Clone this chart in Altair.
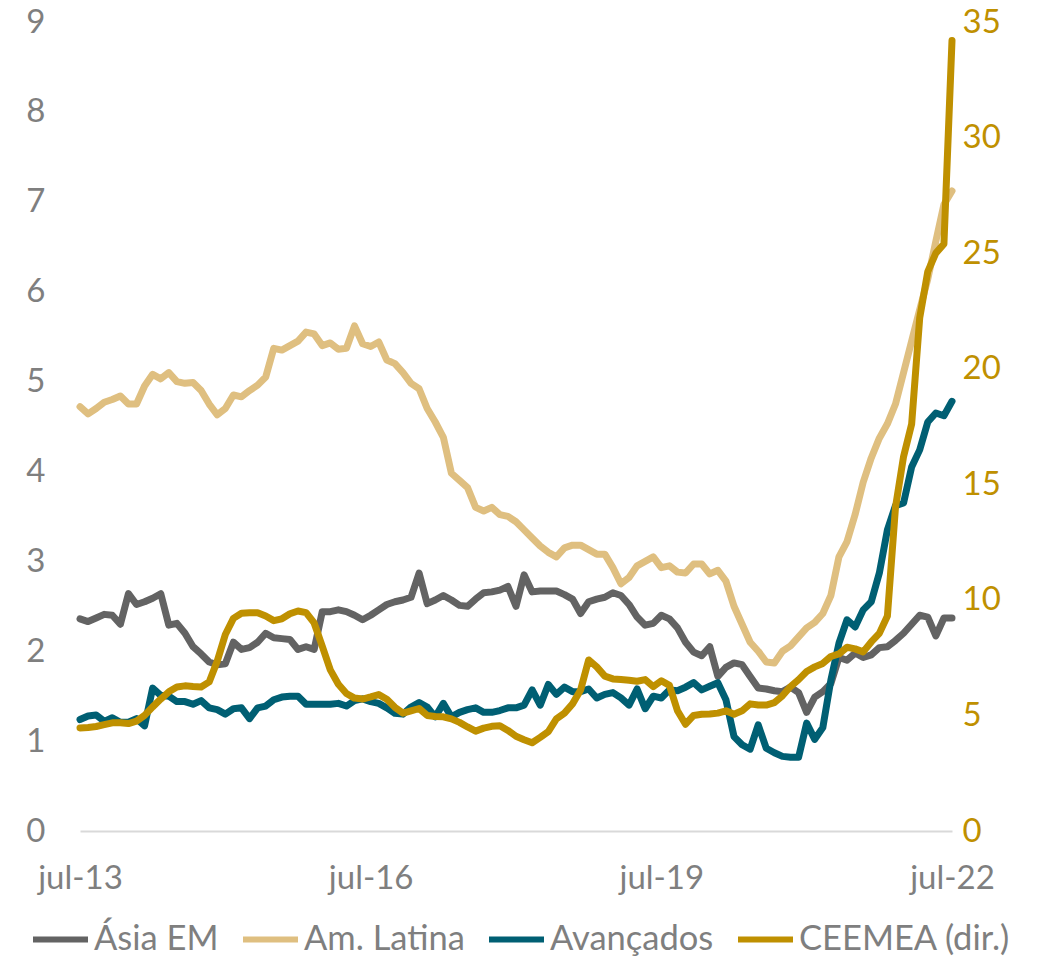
import altair as alt
import pandas as pd

# ---- data (monthly, jul-13 .. jul-22) ----
tick_labels = ["jul-13", "jul-16", "jul-19", "jul-22"]
series_names = ["Ásia EM", "Am. Latina", "Avançados", "CEEMEA (dir.)"]
series_colors = ["#636363", "#dfbf80", "#005f73", "#bf9000"]

asia = [2.36, 2.33, 2.37, 2.41, 2.40, 2.30, 2.64, 2.52, 2.55, 2.59,
        2.64, 2.29, 2.31, 2.20, 2.05, 1.97, 1.88, 1.85, 1.86, 2.10,
        2.02, 2.04, 2.10, 2.20, 2.15, 2.14, 2.13, 2.02, 2.05, 2.02,
        2.44, 2.44, 2.46, 2.44, 2.40, 2.35, 2.40, 2.46, 2.52, 2.55,
        2.57, 2.60, 2.87, 2.53, 2.57, 2.62, 2.57, 2.51, 2.50, 2.58,
        2.65, 2.66, 2.68, 2.72, 2.50, 2.85, 2.66, 2.67, 2.67, 2.67,
        2.63, 2.58, 2.42, 2.55, 2.58, 2.60, 2.65, 2.62, 2.52, 2.38,
        2.29, 2.31, 2.40, 2.36, 2.26, 2.10, 1.99, 1.95, 2.05, 1.72,
        1.82, 1.87, 1.85, 1.72, 1.59, 1.58, 1.56, 1.55, 1.60, 1.54,
        1.32, 1.49, 1.55, 1.64, 1.93, 1.90, 1.98, 1.93, 1.96, 2.04,
        2.05, 2.12, 2.20, 2.30, 2.40, 2.38, 2.17, 2.37, 2.37]

latam = [4.72, 4.64, 4.70, 4.77, 4.80, 4.84, 4.75, 4.75, 4.95, 5.08,
         5.03, 5.10, 5.00, 4.98, 4.99, 4.90, 4.75, 4.63, 4.70, 4.85,
         4.83, 4.90, 4.96, 5.05, 5.37, 5.35, 5.40, 5.45, 5.55, 5.53,
         5.40, 5.43, 5.36, 5.37, 5.62, 5.42, 5.39, 5.44, 5.24, 5.20,
         5.10, 4.98, 4.92, 4.70, 4.55, 4.38, 3.98, 3.90, 3.82, 3.60,
         3.56, 3.60, 3.52, 3.50, 3.44, 3.35, 3.26, 3.17, 3.10, 3.05,
         3.15, 3.18, 3.18, 3.13, 3.08, 3.08, 2.93, 2.75, 2.82, 2.95,
         3.00, 3.05, 2.93, 2.95, 2.88, 2.87, 2.97, 2.97, 2.86, 2.90,
         2.78, 2.50, 2.30, 2.10, 2.00, 1.88, 1.87, 2.00, 2.06, 2.16,
         2.26, 2.32, 2.42, 2.62, 3.05, 3.22, 3.52, 3.88, 4.15, 4.37,
         4.53, 4.75, 5.10, 5.45, 5.80, 6.14, 6.56, 6.97, 7.12]

avancados = [1.24, 1.28, 1.29, 1.22, 1.26, 1.21, 1.21, 1.25, 1.17, 1.59,
             1.51, 1.50, 1.44, 1.44, 1.41, 1.45, 1.37, 1.35, 1.30, 1.36,
             1.37, 1.25, 1.37, 1.39, 1.46, 1.49, 1.50, 1.50, 1.41, 1.41,
             1.41, 1.41, 1.42, 1.39, 1.45, 1.47, 1.44, 1.42, 1.37, 1.31,
             1.30, 1.38, 1.43, 1.38, 1.27, 1.42, 1.27, 1.32, 1.35, 1.37,
             1.32, 1.32, 1.34, 1.37, 1.37, 1.40, 1.57, 1.40, 1.63, 1.52,
             1.60, 1.55, 1.55, 1.58, 1.48, 1.52, 1.54, 1.48, 1.40, 1.58,
             1.36, 1.50, 1.48, 1.57, 1.56, 1.60, 1.65, 1.57, 1.61, 1.65,
             1.46, 1.05, 0.96, 0.91, 1.18, 0.92, 0.87, 0.83, 0.82, 0.82,
             1.20, 1.02, 1.15, 1.68, 2.09, 2.35, 2.27, 2.46, 2.55, 2.87,
             3.35, 3.62, 3.65, 4.05, 4.24, 4.55, 4.65, 4.62, 4.78]

ceemea = [4.46, 4.48, 4.52, 4.60, 4.68, 4.68, 4.65, 4.75, 5.00, 5.37,
          5.71, 6.02, 6.23, 6.28, 6.25, 6.23, 6.45, 7.35, 8.50, 9.20,
          9.42, 9.44, 9.44, 9.30, 9.10, 9.18, 9.40, 9.52, 9.45, 9.00,
          8.00, 6.97, 6.35, 5.95, 5.75, 5.71, 5.80, 5.90, 5.70, 5.35,
          5.10, 5.20, 5.30, 5.00, 4.95, 4.94, 4.85, 4.70, 4.50, 4.32,
          4.45, 4.53, 4.55, 4.35, 4.10, 3.95, 3.82, 4.05, 4.30, 4.85,
          5.10, 5.50, 6.10, 7.40, 7.10, 6.70, 6.58, 6.55, 6.52, 6.48,
          6.55, 6.25, 6.50, 6.30, 5.20, 4.62, 5.00, 5.05, 5.06, 5.10,
          5.20, 5.05, 5.20, 5.50, 5.45, 5.45, 5.55, 5.85, 6.25, 6.55,
          6.90, 7.10, 7.25, 7.55, 7.66, 7.95, 7.88, 7.75, 8.18, 8.55,
          9.30, 14.0, 16.2, 17.6, 22.2, 24.2, 25.0, 25.4, 34.2]

left_ticks = list(range(0, 10))
right_ticks = list(range(0, 36, 5))

# ---- tables ----
n = len(asia)
rows = []
for name, vals in zip(series_names[:3], [asia, latam, avancados]):
    for i, v in enumerate(vals):
        rows.append({"month": i, "value": v, "series": name})
left_df = pd.DataFrame(rows)
right_df = pd.DataFrame({"month": list(range(n)), "value": ceemea,
                         "series": series_names[3]})

FONT = "Lato"
GREY = "#7f7f7f"
span = n - 1
step = span // (len(tick_labels) - 1)
label_expr = "[" + ",".join("'%s'" % t for t in tick_labels) + "][round(datum.value/%d)]" % step

x_enc = alt.X(
    "month:Q",
    scale=alt.Scale(domain=[0, span], nice=False, zero=False),
    axis=alt.Axis(values=[i * step for i in range(len(tick_labels))],
                  labelExpr=label_expr, title=None, grid=False, ticks=False,
                  domain=True, domainColor="#d9d9d9", domainWidth=2,
                  labelFont=FONT, labelFontSize=33, labelColor=GREY,
                  labelPadding=31, labelFlush=False, labelOverlap=False),
)

color_enc = alt.Color(
    "series:N",
    scale=alt.Scale(domain=series_names, range=series_colors),
    legend=alt.Legend(orient="none", legendX=-50, legendY=887,
                      direction="horizontal", title=None,
                      symbolType="stroke", symbolSize=3025,
                      symbolStrokeWidth=6, labelFont=FONT,
                      labelFontSize=34.5, labelColor=GREY, labelOffset=3,
                      columnPadding=12, labelLimit=400),
)

left = alt.Chart(left_df).mark_line(
    strokeWidth=7, strokeCap="round", strokeJoin="round"
).encode(
    x=x_enc,
    y=alt.Y("value:Q", scale=alt.Scale(domain=[0, 9], nice=False),
            axis=alt.Axis(values=left_ticks, title=None, grid=False,
                          ticks=False, domain=False, labelFont=FONT,
                          labelFontSize=33, labelColor=GREY,
                          labelPadding=35, orient="left")),
    color=color_enc,
)

right = alt.Chart(right_df).mark_line(
    strokeWidth=7, strokeCap="round", strokeJoin="round"
).encode(
    x=x_enc,
    y=alt.Y("value:Q", scale=alt.Scale(domain=[0, 35], nice=False),
            axis=alt.Axis(values=right_ticks, title=None, grid=False,
                          ticks=False, domain=False, labelFont=FONT,
                          labelFontSize=33, labelColor="#bf9000",
                          labelPadding=10, orient="right")),
    color=color_enc,
)

chart = alt.layer(left, right).resolve_scale(y="independent").properties(
    width=872, height=809,
    autosize=alt.AutoSizeParams(type="none"),
    padding={"left": 72, "top": 14, "right": 90, "bottom": 126},
    background="white",
).configure_view(stroke=None)

chart.save("out.html", embed_options={"renderer": "svg", "actions": False})
